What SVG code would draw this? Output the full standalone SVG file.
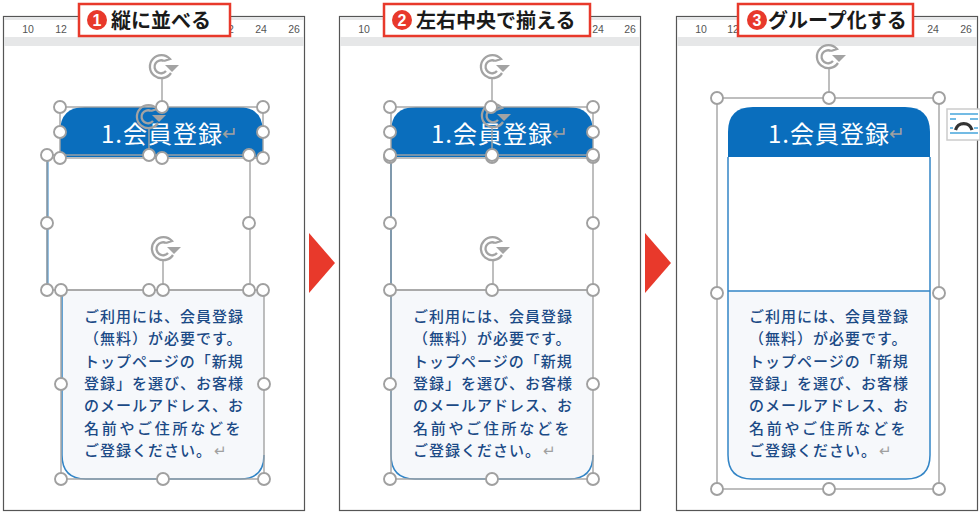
<svg xmlns="http://www.w3.org/2000/svg" width="980" height="513" viewBox="0 0 980 513">
<defs>
<style>
.page{fill:#fff;stroke:#555;stroke-width:1.2}
.rul{fill:#e6e7e8}
.rn{font:10.500px "Liberation Sans",sans-serif;fill:#555;text-anchor:middle}
.sel{fill:none;stroke:#a3a3a3;stroke-width:1.4}
.h{fill:#fff;stroke:#a0a0a0;stroke-width:1.9}
.lab{fill:#fff;stroke:#e8392b;stroke-width:2.5}
.lt{font:bold 20px "Noto Sans CJK JP",sans-serif;fill:#1a1a1a}
.num{fill:#e8392b}
.nt{font:bold 16px "Liberation Sans",sans-serif;fill:#fff;text-anchor:middle}
.ttl{font:24px "Noto Sans CJK JP",sans-serif;fill:#fff;letter-spacing:1px}
.ret{font:19px "Noto Sans CJK JP",sans-serif;fill:#a0a0a0;letter-spacing:0}
.bd{font:500 15px "Noto Sans CJK JP",sans-serif;fill:#1b4a86;letter-spacing:1px}
.rot{fill:none;stroke:#a3a3a3;stroke-width:2.3}
.blue{fill:#0a6ebd}
.pale{fill:#f6f8fb}
.bl{fill:none;stroke:#3385c6;stroke-width:1.5}
</style>
<g id="rotate"><path class="rot" d="M3 -6A6.500 6.500 0 1 0 5 4M3 -6L9 -8A11.500 11.500 0 1 0 10 6"/><path d="M4 -2L18 -2L11 5Z" fill="#a3a3a3"/></g>
<g id="body">
<text class="bd" x="0" y="0">ご利用には、会員登録</text>
<text class="bd" x="0" y="22">（無料）が必要です。</text>
<text class="bd" x="0" y="44.500">トップページの「新規</text>
<text class="bd" x="0" y="67">登録」を選び、お客様</text>
<text class="bd" x="0" y="89">のメールアドレス、お</text>
<text class="bd" x="0" y="111.500" style="letter-spacing:2.700px">名前やご住所などを</text>
<text class="bd" x="0" y="134">ご登録ください。<tspan class="ret" dx="2" style="font-size:15px">↵</tspan></text>
</g>
</defs>

<g id="panel1">
<rect class="page" x="3.500" y="16.500" width="301" height="494"/>
<rect class="rul" x="4" y="17" width="300" height="3"/>
<rect class="rul" x="4" y="37" width="300" height="9"/>
<text class="rn" x="28" y="33">10</text><text class="rn" x="61" y="33">12</text><text class="rn" x="228" y="33">22</text><text class="rn" x="261" y="33">24</text><text class="rn" x="294" y="33">26</text>
<path class="blue" d="M60 152V132Q60 107 85 107H238Q263 107 263 132V152Q263 157 258 157H65Q60 157 60 152Z"/>
<text class="ttl" x="101" y="143">1.会員登録</text><text class="ret" x="222" y="140">↵</text>
<path d="M47.500 157V290" fill="none" stroke="#2f82c4" stroke-width="2"/>
<path class="pale" d="M62 290H264V455Q264 479 240 479H86Q62 479 62 455Z"/>
<path class="bl" d="M62 290V455Q62 479 86 479H240Q264 479 264 455"/>
<use href="#body" x="84" y="322"/>
<g class="sel"><rect x="60" y="107" width="203" height="51"/><rect x="47" y="155" width="203" height="135"/><rect x="61" y="290" width="203" height="189"/><path d="M162 78V107M149 128V155M163 260V290"/></g>
<use href="#rotate" x="161" y="67"/><use href="#rotate" x="148" y="117"/><use href="#rotate" x="163" y="249"/>
<g class="h"><circle cx="60" cy="107" r="6"/><circle cx="162" cy="107" r="6"/><circle cx="263" cy="107" r="6"/><circle cx="60" cy="132" r="6"/><circle cx="263" cy="132" r="6"/><circle cx="60" cy="158" r="6"/><circle cx="162" cy="158" r="6"/><circle cx="263" cy="158" r="6"/><circle cx="47" cy="155" r="6"/><circle cx="149" cy="155" r="6"/><circle cx="249" cy="155" r="6"/><circle cx="47" cy="223" r="6"/><circle cx="249" cy="223" r="6"/><circle cx="47" cy="290" r="6"/><circle cx="149" cy="290" r="6"/><circle cx="249" cy="290" r="6"/><circle cx="61" cy="290" r="6"/><circle cx="163" cy="290" r="6"/><circle cx="263" cy="290" r="6"/><circle cx="61" cy="384" r="6"/><circle cx="264" cy="384" r="6"/><circle cx="61" cy="479" r="6"/><circle cx="163" cy="479" r="6"/><circle cx="264" cy="479" r="6"/></g>
<rect class="lab" x="79" y="4" width="151" height="32"/>
<circle class="num" cx="97" cy="20" r="10"/><text class="nt" x="97" y="26">1</text>
<text class="lt" x="111" y="28">縦に並べる</text>
</g>

<g id="panel2">
<rect class="page" x="339.500" y="16.500" width="301" height="494"/>
<rect class="rul" x="340" y="17" width="300" height="3"/>
<rect class="rul" x="340" y="37" width="300" height="9"/>
<text class="rn" x="364" y="33">10</text><text class="rn" x="598" y="33">24</text><text class="rn" x="630" y="33">26</text>
<path class="blue" d="M391 152V132Q391 107 416 107H568Q593 107 593 132V152Q593 157 588 157H396Q391 157 391 152Z"/>
<text class="ttl" x="431" y="143">1.会員登録</text><text class="ret" x="552" y="140">↵</text>
<path d="M391 157V290" fill="none" stroke="#2f82c4" stroke-width="2"/>
<path class="pale" d="M391 290H593V455Q593 479 569 479H415Q391 479 391 455Z"/>
<path class="bl" d="M391 290V455Q391 479 415 479H569Q593 479 593 455"/>
<use href="#body" x="413" y="322"/>
<g class="sel"><rect x="391" y="107" width="202" height="51"/><rect x="391" y="155" width="202" height="135"/><rect x="391" y="290" width="202" height="189"/><path d="M492 78V107M492 128V155M493 260V290"/></g>
<use href="#rotate" x="492" y="67"/><use href="#rotate" x="493" y="116"/><use href="#rotate" x="492" y="249"/>
<g class="h"><circle cx="390" cy="107" r="6"/><circle cx="593" cy="107" r="6"/><circle cx="491" cy="107" r="6"/><circle cx="390" cy="132" r="6"/><circle cx="593" cy="132" r="6"/><circle cx="390" cy="157" r="6"/><circle cx="492" cy="157" r="6"/><circle cx="593" cy="157" r="6"/><circle cx="390" cy="155" r="6"/><circle cx="492" cy="155" r="6"/><circle cx="593" cy="155" r="6"/><circle cx="390" cy="223" r="6"/><circle cx="593" cy="223" r="6"/><circle cx="390" cy="290" r="6"/><circle cx="492" cy="290" r="6"/><circle cx="593" cy="290" r="6"/><circle cx="390" cy="384" r="6"/><circle cx="593" cy="384" r="6"/><circle cx="390" cy="479" r="6"/><circle cx="492" cy="479" r="6"/><circle cx="593" cy="479" r="6"/></g>
<rect class="lab" x="384" y="4" width="206" height="32"/>
<circle class="num" cx="402" cy="20" r="10"/><text class="nt" x="402" y="26">2</text>
<text class="lt" x="416" y="28">左右中央で揃える</text>
</g>

<g id="panel3">
<rect class="page" x="676.500" y="16.500" width="301" height="494"/>
<rect class="rul" x="677" y="17" width="300" height="3"/>
<rect class="rul" x="677" y="37" width="300" height="9"/>
<text class="rn" x="701" y="33">10</text><text class="rn" x="733" y="33">12</text><text class="rn" x="933" y="33">24</text><text class="rn" x="966" y="33">26</text>
<path class="blue" d="M728 157V132Q728 107 753 107H905Q930 107 930 132V157Z"/>
<text class="ttl" x="768" y="143">1.会員登録</text><text class="ret" x="889" y="140">↵</text>
<path class="pale" d="M728 291H930V455Q930 479 906 479H752Q728 479 728 455Z"/>
<path class="bl" d="M728 157V455Q728 479 752 479H906Q930 479 930 455V157M728 291H930"/>
<use href="#body" x="749" y="322"/>
<g class="sel"><rect x="717" y="98" width="222" height="391"/><path d="M829 68V98"/></g>
<use href="#rotate" x="828" y="57"/>
<g class="h"><circle cx="717" cy="98" r="6"/><circle cx="829" cy="98" r="6"/><circle cx="939" cy="98" r="6"/><circle cx="717" cy="293" r="6"/><circle cx="939" cy="293" r="6"/><circle cx="717" cy="489" r="6"/><circle cx="829" cy="489" r="6"/><circle cx="939" cy="489" r="6"/></g>
<g id="layout-icon"><rect x="947" y="109" width="33" height="31" fill="#fff" stroke="#ccc" stroke-width="1.5"/><path d="M950 114H978M950 119H956M970 119H978M950 128H953M974 128H978M950 133H978" stroke="#45a5dc" stroke-width="1.3" fill="none"/><path d="M955.500 130A8.500 8.500 0 0 1 972 130" fill="none" stroke="#333" stroke-width="3.200"/></g>
<rect class="lab" x="738" y="4" width="175" height="32"/>
<circle class="num" cx="757" cy="20" r="10"/><text class="nt" x="757" y="26">3</text>
<text class="lt" x="768" y="28">グループ化する</text>
</g>

<g id="connectors" fill="#e8392b">
<path d="M309 233L335 263L309 293Z"/>
<path d="M645 233L671 263L645 293Z"/>
</g>
</svg>
